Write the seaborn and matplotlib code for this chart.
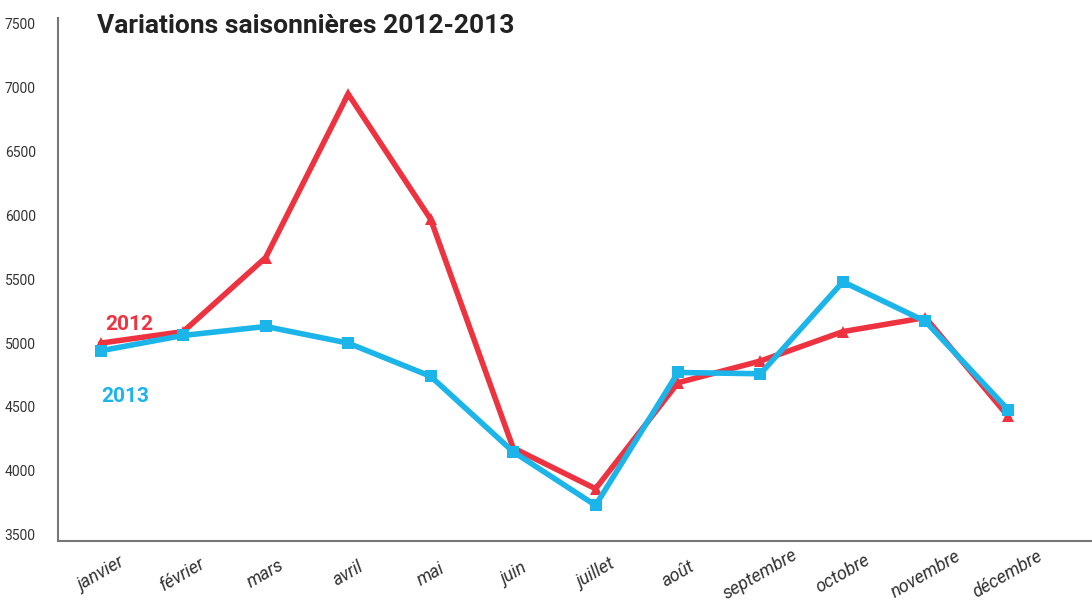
import seaborn as sns
import pandas as pd
import matplotlib.pyplot as plt

mois = ["janvier", "février", "mars", "avril", "mai", "juin", "juillet",
        "août", "septembre", "octobre", "novembre", "décembre"]
valeurs_2012 = [5000, 5090, 5670, 6950, 5970, 4180, 3860, 4690, 4860, 5090, 5200, 4430]
valeurs_2013 = [4940, 5060, 5130, 5000, 4740, 4150, 3730, 4770, 4760, 5480, 5170, 4480]
graduations = [3500, 4000, 4500, 5000, 5500, 6000, 6500, 7000, 7500]

ROUGE = "#EE3340"
BLEU = "#1CB5EA"

df = pd.DataFrame({
    "mois": mois * 2,
    "valeur": valeurs_2012 + valeurs_2013,
    "annee": ["2012"] * 12 + ["2013"] * 12,
})

sns.set_style("white")
plt.rcParams["font.family"] = ["Roboto", "DejaVu Sans"]

fig = plt.figure(figsize=(10.92, 6.11), dpi=100)
ax = fig.add_axes([0.053, 0.115, 0.947, 0.856])

sns.lineplot(data=df, x="mois", y="valeur", hue="annee", style="annee",
             palette={"2012": ROUGE, "2013": BLEU},
             markers={"2012": "^", "2013": "s"}, dashes=False,
             markersize=8, markeredgewidth=0, linewidth=4,
             sort=False, legend=False, ax=ax)

ax.set_xlim(-0.52, 12.02)
ax.set_ylim(3453, 7547)
ax.set_yticks(graduations)
ax.set_xlabel("")
ax.set_ylabel("")
ax.tick_params(axis="y", length=0, pad=16, labelsize=10, labelcolor="#333333")
ax.tick_params(axis="x", length=0, pad=24, labelsize=13, labelcolor="#333333")
for lab in ax.get_xticklabels():
    lab.set_rotation(30)
    lab.set_ha("center")
    lab.set_va("center")
    lab.set_style("italic")

for side in ["top", "right"]:
    ax.spines[side].set_visible(False)
for side in ["left", "bottom"]:
    ax.spines[side].set_color("#777777")
    ax.spines[side].set_linewidth(1.5)

fig.text(0.089, 0.957, "Variations saisonnières 2012-2013", fontsize=19,
         fontweight="bold", color="#222222", va="center", ha="left")
ax.text(0.05, 5100, "2012", color=ROUGE, fontsize=15, fontweight="bold")
ax.text(0.0, 4540, "2013", color=BLEU, fontsize=15, fontweight="bold")

fig.savefig("out.png", dpi=100)
